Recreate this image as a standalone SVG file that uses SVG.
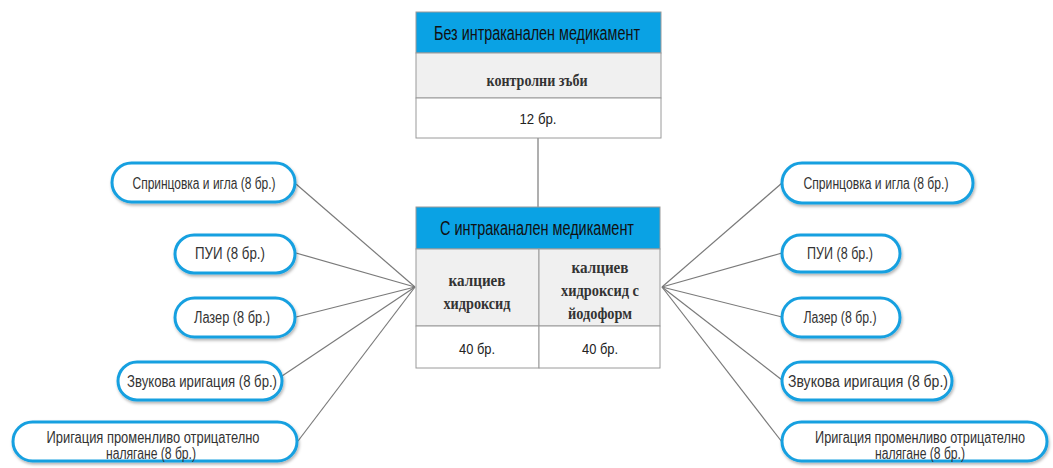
<svg xmlns="http://www.w3.org/2000/svg" width="1053" height="468" viewBox="0 0 1053 468">
<style>
.hdr{fill:#0aa2e4;stroke:#9a9a9a;stroke-width:1}
.gry{fill:#f0f0f0;stroke:#9a9a9a;stroke-width:1}
.wht{fill:#ffffff;stroke:#9a9a9a;stroke-width:1}
.pill{fill:#ffffff;stroke:#16a0e0;stroke-width:3;filter:url(#sh)}
.conn line{stroke:#7a7a7a;stroke-width:1.2}
.sn{font-family:"Liberation Sans Narrow","Liberation Sans",Arial,sans-serif;text-anchor:middle}
.ht{font-size:20px;fill:#111}
.pt{font-size:16px;fill:#333}
.ct{font-size:15px;fill:#222}
.sf{font-family:"Liberation Serif","Times New Roman",serif;font-size:17px;font-weight:bold;fill:#333;text-anchor:middle}
</style>
<defs>
<filter id="sh" x="-10%" y="-30%" width="120%" height="170%">
<feDropShadow dx="1" dy="2" stdDeviation="1.5" flood-color="#000" flood-opacity="0.3"/>
</filter>
</defs>
<rect width="1053" height="468" fill="#ffffff"/>
<g class="conn" id="connectors">
<line x1="538" y1="138" x2="538" y2="207"/>
<line x1="296" y1="184" x2="415" y2="287"/>
<line x1="296" y1="253" x2="415" y2="287"/>
<line x1="296" y1="317" x2="415" y2="287"/>
<line x1="282" y1="376" x2="415" y2="287"/>
<line x1="298" y1="441" x2="415" y2="287"/>
<line x1="662" y1="287" x2="782" y2="183"/>
<line x1="662" y1="287" x2="782" y2="253"/>
<line x1="662" y1="287" x2="782" y2="317"/>
<line x1="662" y1="287" x2="782" y2="380"/>
<line x1="662" y1="287" x2="782" y2="442"/>
</g>
<g id="table-top">
<rect class="hdr" x="416" y="12" width="245" height="41"/>
<rect class="gry" x="416" y="53" width="245" height="45"/>
<rect class="wht" x="416" y="98" width="245" height="40"/>
<text class="sn ht" x="537" y="40" textLength="206" lengthAdjust="spacingAndGlyphs">Без интраканален медикамент</text>
<text class="sf" x="537" y="86" textLength="101" lengthAdjust="spacingAndGlyphs">контролни зъби</text>
<text class="sn ct" x="538" y="124" textLength="37" lengthAdjust="spacingAndGlyphs">12 бр.</text>
</g>
<g id="table-bottom">
<rect class="hdr" x="416" y="207" width="244" height="42"/>
<rect class="gry" x="416" y="249" width="123" height="77"/>
<rect class="gry" x="539" y="249" width="121" height="77"/>
<rect class="wht" x="416" y="326" width="123" height="42"/>
<rect class="wht" x="539" y="326" width="121" height="42"/>
<text class="sn ht" x="537" y="235" textLength="194" lengthAdjust="spacingAndGlyphs">С интраканален медикамент</text>
<text class="sf" x="477" y="286" textLength="57" lengthAdjust="spacingAndGlyphs">калциев</text>
<text class="sf" x="477" y="309" textLength="67" lengthAdjust="spacingAndGlyphs">хидроксид</text>
<text class="sf" x="600" y="273" textLength="57" lengthAdjust="spacingAndGlyphs">калциев</text>
<text class="sf" x="600" y="296" textLength="78" lengthAdjust="spacingAndGlyphs">хидроксид с</text>
<text class="sf" x="600" y="319" textLength="64" lengthAdjust="spacingAndGlyphs">йодоформ</text>
<text class="sn ct" x="477" y="354" textLength="36" lengthAdjust="spacingAndGlyphs">40 бр.</text>
<text class="sn ct" x="600" y="354" textLength="36" lengthAdjust="spacingAndGlyphs">40 бр.</text>
</g>
<g id="l1"><rect class="pill" x="112" y="163" width="183" height="39" rx="19.5"/><text class="sn pt" x="204" y="189" textLength="143" lengthAdjust="spacingAndGlyphs">Спринцовка и игла (8 бр.)</text></g>
<g id="l2"><rect class="pill" x="175" y="235" width="120" height="38" rx="19"/><text class="sn pt" x="230" y="259" textLength="70" lengthAdjust="spacingAndGlyphs">ПУИ (8 бр.)</text></g>
<g id="l3"><rect class="pill" x="175" y="298" width="120" height="39" rx="19.5"/><text class="sn pt" x="232" y="323" textLength="76" lengthAdjust="spacingAndGlyphs">Лазер (8 бр.)</text></g>
<g id="l4"><rect class="pill" x="118" y="362" width="164" height="38" rx="19"/><text class="sn pt" x="202" y="387" textLength="150" lengthAdjust="spacingAndGlyphs" style="font-size:17px">Звукова иригация (8 бр.)</text></g>
<g id="l5"><rect class="pill" x="13" y="422" width="284" height="39" rx="19.5"/><text class="sn pt" x="153" y="443" textLength="213" lengthAdjust="spacingAndGlyphs">Иригация променливо отрицателно</text><text class="sn pt" x="151" y="459" textLength="90" lengthAdjust="spacingAndGlyphs">налягане (8 бр.)</text></g>
<g id="r1"><rect class="pill" x="782" y="163" width="191" height="40" rx="20"/><text class="sn pt" x="876" y="189" textLength="145" lengthAdjust="spacingAndGlyphs">Спринцовка и игла (8 бр.)</text></g>
<g id="r2"><rect class="pill" x="782" y="235" width="118" height="37" rx="18.5"/><text class="sn pt" x="840" y="259" textLength="66" lengthAdjust="spacingAndGlyphs">ПУИ (8 бр.)</text></g>
<g id="r3"><rect class="pill" x="782" y="298" width="118" height="39" rx="19.5"/><text class="sn pt" x="840" y="323" textLength="73" lengthAdjust="spacingAndGlyphs">Лазер (8 бр.)</text></g>
<g id="r4"><rect class="pill" x="782" y="362" width="170" height="38" rx="19"/><text class="sn pt" x="868" y="387" textLength="160" lengthAdjust="spacingAndGlyphs" style="font-size:17px">Звукова иригация (8 бр.)</text></g>
<g id="r5"><rect class="pill" x="782" y="422" width="265" height="39" rx="19.5"/><text class="sn pt" x="920" y="443" textLength="210" lengthAdjust="spacingAndGlyphs">Иригация променливо отрицателно</text><text class="sn pt" x="920" y="459" textLength="90" lengthAdjust="spacingAndGlyphs">налягане (8 бр.)</text></g>
</svg>
